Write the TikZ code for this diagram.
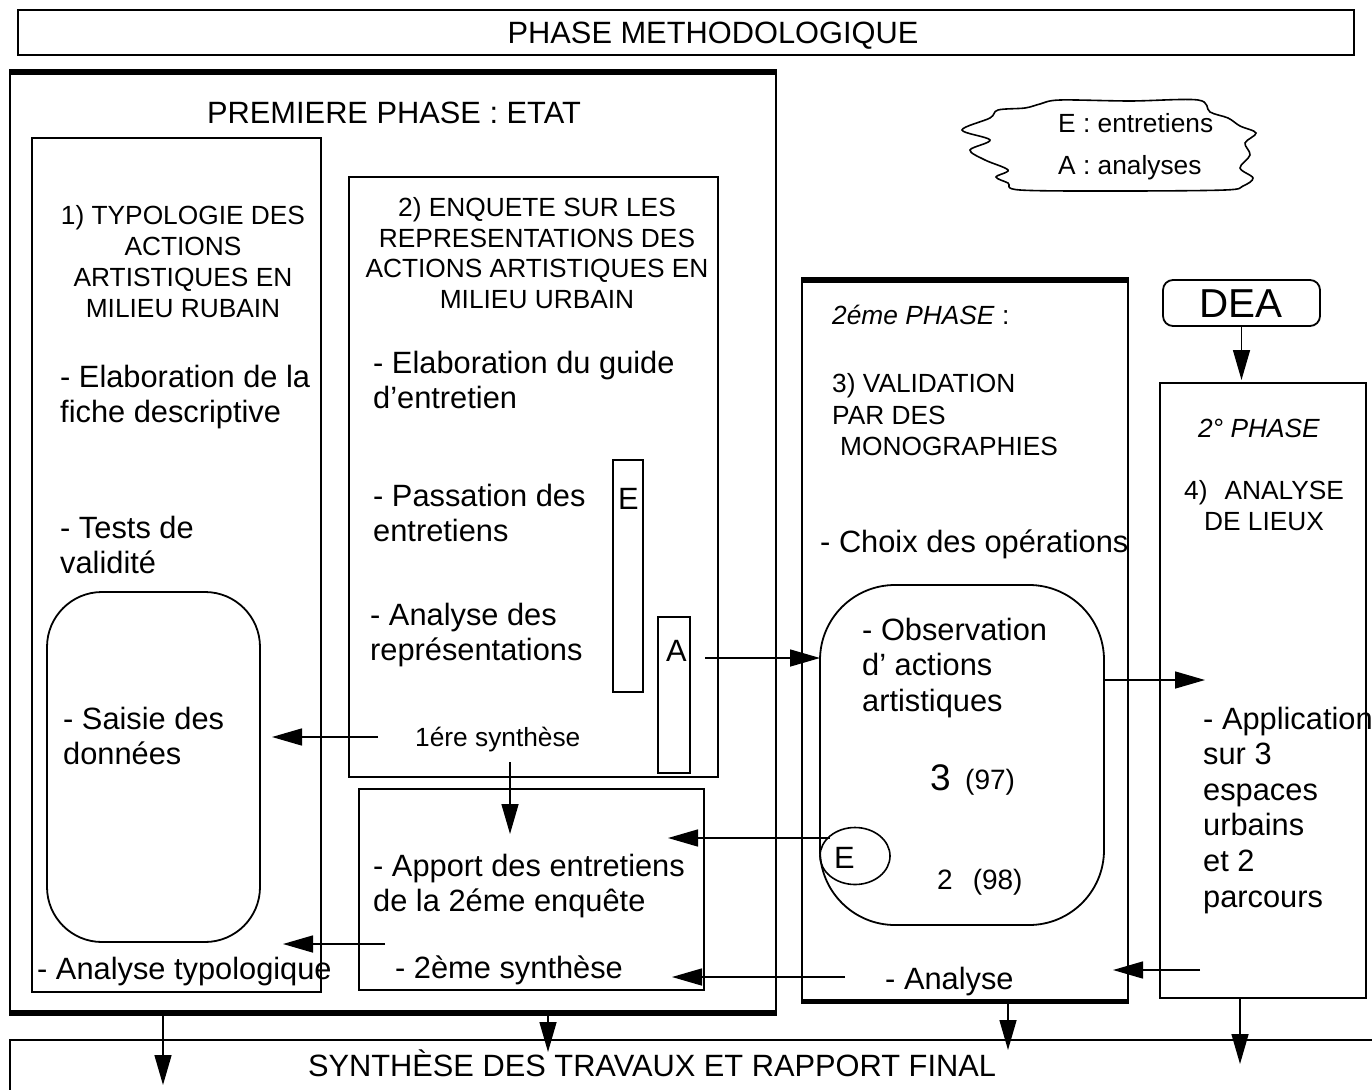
\documentclass[tikz,border=0pt]{standalone}
\usepackage{fontspec}
\setmainfont{Liberation Sans}
\usetikzlibrary{arrows.meta,shapes.geometric}
\newcommand\BigF{\fontsize{30.8}{35.5}\selectfont}
\newcommand\SmF{\fontsize{26.3}{31}\selectfont}
\begin{document}
\begin{tikzpicture}[x=1pt,y=-1pt,
  box/.style={draw, line width=1.8pt, inner sep=0pt, outer sep=0pt, anchor=north west},
  rbox/.style={box, rounded corners=#1},
  btxt/.style={font=\BigF, align=left, inner sep=0pt, anchor=base west},
  stxt/.style={font=\SmF, align=left, inner sep=0pt, anchor=base west},
  sctr/.style={font=\SmF, align=center, inner sep=0pt, anchor=base},
  thickline/.style={line width=6pt},
  arr/.style={line width=1.5pt, -{Triangle[length=30pt,width=17pt]}}]
\useasboundingbox (0,0) rectangle (1372,1089);
\clip (0,0) rectangle (1372,1089);
\fill[white] (0,0) rectangle (1372,1089);

% boxes
\node[box, minimum width=1336pt, minimum height=45pt] (top) at (18,10) {};
\node[box, minimum width=766pt, minimum height=945pt] (p1) at (10,70) {};
\draw[thickline] ([yshift=-2pt]p1.north west) -- ([yshift=-2pt]p1.north east);
\draw[thickline] ([yshift=2pt]p1.south west) -- ([yshift=2pt]p1.south east);
\node[box, minimum width=289pt, minimum height=854pt] (b1) at (32,138) {};
\node[rbox=55pt, minimum width=213pt, minimum height=350pt] (rb1) at (47,592) {};
\node[box, minimum width=369pt, minimum height=600pt] (b2) at (349,177) {};
\node[box, minimum width=30pt, minimum height=232pt] (eb) at (613,460) {};
\node[box, minimum width=32pt, minimum height=156pt] (ab) at (658,617) {};
\node[box, minimum width=345pt, minimum height=201pt] (b2b) at (359,789) {};
\node[box, minimum width=326pt, minimum height=725pt] (b3) at (802,278) {};
\draw[line width=5pt] ([yshift=-2pt]b3.north west) -- ([yshift=-2pt]b3.north east);
\draw[line width=5pt] ([yshift=2pt]b3.south west) -- ([yshift=2pt]b3.south east);
\node[rbox=75pt, minimum width=284pt, minimum height=340pt] (rb3) at (820,585) {};
\node[draw, ellipse, line width=1.6pt, inner sep=0pt, minimum width=70pt, minimum height=57pt] (ell) at (855,856) {};
\node[rbox=10pt, minimum width=157pt, minimum height=46pt] (dea) at (1163,280) {};
\node[box, minimum width=206pt, minimum height=615pt] (b4) at (1160,383) {};
\node[box, minimum width=1400pt, minimum height=80pt] (bot) at (10,1040) {};

% cloud legend
\draw[line width=1.6pt] plot[smooth cycle, tension=0.55] coordinates {
 (1040,104) (1060,100) (1130,101) (1198,100) (1210,112) (1228,118) (1240,126)
 (1256,133) (1245,143) (1250,155) (1240,168) (1253,178) (1243,186) (1225,190)
 (1120,191) (1020,190) (1008,183) (996,177) (1008,170) (985,160) (970,150)
 (990,140) (962,130) (990,118) (998,110) (1025,108)};
\node[stxt, font=\fontsize{26.3}{42}\selectfont] (leg) at (1058,174.5) {E : entretiens\\A : analyses};

% texts (base anchor = baseline of last line)
\node[font=\BigF, inner sep=0pt, anchor=base] (ttop) at (713,44) {PHASE METHODOLOGIQUE};
\node[font=\BigF, inner sep=0pt, anchor=base] (tp1) at (394,124) {PREMIERE PHASE : ETAT};
\node[sctr] (t1) at (183,317.5) {1) TYPOLOGIE DES\\ACTIONS\\ARTISTIQUES EN\\MILIEU RUBAIN};
\node[btxt] (elab1) at (60,422.5) {- Elaboration de la\\fiche descriptive};
\node[btxt] (tests) at (60,573.5) {- Tests de\\validité};
\node[btxt] (saisie) at (63,764.5) {- Saisie des\\données};
\node[btxt] (antyp) at (37,979) {- Analyse typologique};
\node[sctr, font=\fontsize{26.3}{30.5}\selectfont] (t2) at (537,308) {2) ENQUETE SUR LES\\REPRESENTATIONS DES\\ACTIONS ARTISTIQUES EN\\MILIEU URBAIN};
\node[btxt] (elab2) at (373,408.5) {- Elaboration du guide\\d'entretien};
\node[btxt] (pass) at (373,541.5) {- Passation des\\entretiens};
\node[btxt] (anrep) at (370,660.5) {- Analyse des\\représentations};
\node[stxt] (s1) at (415,746.5) {1ére synthèse};
\node[btxt] (E1) at (618,509) {E};
\node[btxt] (A1) at (666,661) {A};
\node[btxt] (apport) at (373,911.5) {- Apport des entretiens\\de la 2éme enquête};
\node[btxt] (s2) at (395,978) {- 2ème synthèse};
\node[stxt] (ph2) at (832,324.5) {\textit{2éme PHASE} :};
\node[stxt, font=\fontsize{26.3}{31.5}\selectfont] (t3) at (832,455.5) {3) VALIDATION\\PAR DES\\\hspace*{8pt}MONOGRAPHIES};
\node[btxt] (choix) at (820,552) {- Choix des opérations};
\node[btxt] (obs) at (862,711) {- Observation\\d' actions\\artistiques};
\node[btxt, font=\fontsize{37}{40}\selectfont] (n3) at (930,790) {3};
\node[stxt, font=\fontsize{28}{31}\selectfont] (n97) at (965,789) {(97)};
\node[stxt, font=\fontsize{28}{31}\selectfont] (n98) at (937,889.5) {2\hspace{20pt}(98)};
\node[btxt] (E2) at (834,868) {E};
\node[btxt] (ana) at (885,989) {- Analyse};
\node[font=\fontsize{40.4}{44}\selectfont, inner sep=0pt, anchor=base] (tdea) at (1241,317) {DEA};
\node[sctr] (ph4) at (1259,437.5) {\textit{2° PHASE}};
\node[sctr] (t4) at (1264,530.5) {4)\hspace{17pt}ANALYSE\\DE LIEUX};
\node[btxt, font=\fontsize{30.8}{35.6}\selectfont] (appl) at (1203,907) {- Application\\sur 3\\espaces\\urbains\\et 2\\parcours};
\node[font=\BigF, inner sep=0pt, anchor=base] (tbot) at (652,1076) {SYNTHÈSE DES TRAVAUX ET RAPPORT FINAL};

% connectors
\coordinate (a1s) at (705,658);
\draw[arr] (a1s) -- (a1s -| rb3.west);
\coordinate (a2e) at (1205,680);
\draw[arr] (rb3.east |- a2e) -- (a2e);
\coordinate (a3s) at (378,737);
\coordinate (a3e) at (272,737);
\draw[arr] (a3s) -- (a3e);
\coordinate (a4s) at (510,762);
\coordinate (a4e) at (510,834);
\draw[arr] (a4s) -- (a4e);
\coordinate (a5s) at (830,838);
\coordinate (a5e) at (668,838);
\draw[arr] (a5s) -- (a5e);
\coordinate (a6s) at (385,944);
\coordinate (a6e) at (283,944);
\draw[arr] (a6s) -- (a6e);
\coordinate (a7s) at (845,977);
\coordinate (a7e) at (672,977);
\draw[arr] (a7s) -- (a7e);
\coordinate (a8s) at (1200,970);
\coordinate (a8e) at (1113,970);
\draw[arr] (a8s) -- (a8e);
\draw[arr] (dea.south) -- ([yshift=3pt]dea.south |- b4.north);
\coordinate (d1) at (163,1085);
\draw[arr] (p1.south -| d1) -- (d1);
\coordinate (d2) at (548,1052);
\draw[arr] (p1.south -| d2) -- (d2);
\coordinate (d3) at (1008,1050);
\draw[arr] (b3.south -| d3) -- (d3);
\coordinate (d4) at (1240,1064);
\draw[arr] (b4.south -| d4) -- (d4);
\end{tikzpicture}
\end{document}
